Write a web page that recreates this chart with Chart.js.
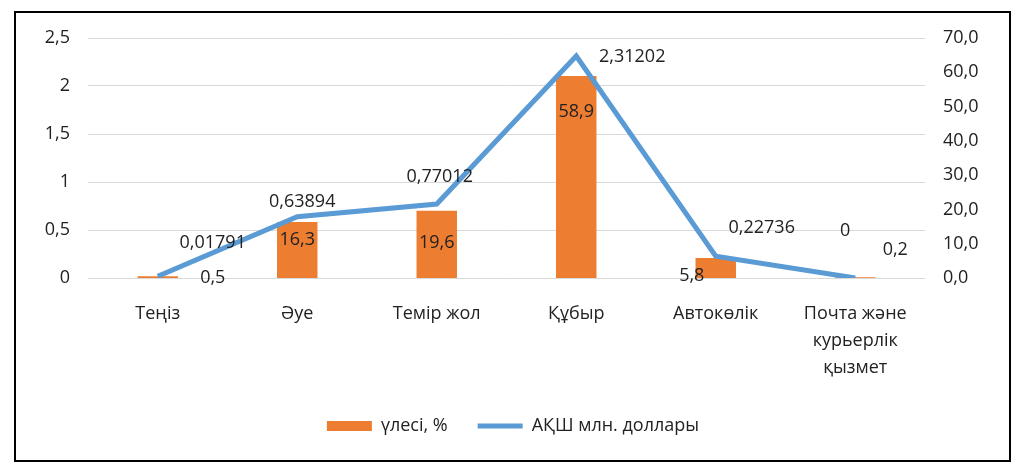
<!DOCTYPE html>
<html>
<head>
<meta charset="utf-8">
<script src="https://cdn.jsdelivr.net/npm/chart.js@4"></script>
<style>
  html, body { margin: 0; padding: 0; background: #fff; }
  #wrap { position: relative; width: 1026px; height: 472px; }
  #frame { position: absolute; left: 14px; top: 11px; width: 993px; height: 447px; border: 2px solid #000; pointer-events: none; }
</style>
</head>
<body>
<div id="wrap">
  <canvas id="chart" width="1026" height="472"></canvas>
  <div id="frame"></div>
</div>
<script>
const categories = ['Теңіз', 'Әуе', 'Темір жол', 'Құбыр', 'Автокөлік', ['Почта және', 'курьерлік', 'қызмет']];
const shareValues = [0.5, 16.3, 19.6, 58.9, 5.8, 0.2];
const usdValues = [0.01791, 0.63894, 0.77012, 2.31202, 0.22736, 0];
const shareLabels = ['0,5', '16,3', '19,6', '58,9', '5,8', '0,2'];
const usdLabels = ['0,01791', '0,63894', '0,77012', '2,31202', '0,22736', '0'];
const leftTicks = ['0', '0,5', '1', '1,5', '2', '2,5'];
const rightTicks = ['0,0', '10,0', '20,0', '30,0', '40,0', '50,0', '60,0', '70,0'];

// label placement relative to bar top / line point (dx, dy)
const barLabelOffsets = [[55, 2], [0, 18], [0, 32], [0, 36], [-24, 18], [40, -27]];
const lineLabelOffsets = [[55, -33], [5, -15], [3, -27], [56, 1], [46, -28], [-10, -47]];

const FONT = '"Open Sans", "Noto Sans", sans-serif';
const TEXT = '#222';

const valueLabels = {
  id: 'valueLabels',
  afterDatasetsDraw(chart) {
    const ctx = chart.ctx;
    ctx.save();
    ctx.font = '18px ' + FONT;
    ctx.fillStyle = TEXT;
    ctx.textAlign = 'center';
    ctx.textBaseline = 'middle';
    chart.data.datasets.forEach((ds, i) => {
      const meta = chart.getDatasetMeta(i);
      meta.data.forEach((el, j) => {
        const off = ds.labelOffsets[j];
        ctx.fillText(ds.valueTexts[j], el.x + off[0], el.y + off[1]);
      });
    });
    ctx.restore();
  }
};

new Chart(document.getElementById('chart'), {
  data: {
    labels: categories,
    datasets: [
      {
        type: 'bar',
        label: 'үлесі, %',
        data: shareValues,
        yAxisID: 'y1',
        backgroundColor: '#ed7d31',
        barPercentage: 0.29,
        categoryPercentage: 1,
        order: 1,
        valueTexts: shareLabels,
        labelOffsets: barLabelOffsets
      },
      {
        type: 'line',
        label: 'АҚШ млн. доллары',
        data: usdValues,
        yAxisID: 'y',
        borderColor: '#5b9bd5',
        backgroundColor: '#5b9bd5',
        borderWidth: 5,
        pointRadius: 0,
        tension: 0,
        order: 0,
        valueTexts: usdLabels,
        labelOffsets: lineLabelOffsets
      }
    ]
  },
  options: {
    responsive: false,
    animation: false,
    layout: { padding: { top: 38, bottom: 27, left: 0, right: 0 } },
    plugins: {
      tooltip: { enabled: false },
      legend: {
        position: 'bottom',
        labels: {
          font: { family: FONT, size: 18 },
          color: TEXT,
          usePointStyle: true,
          pointStyleWidth: 45,
          boxHeight: 10,
          padding: 30,
          sort: (a, b) => a.datasetIndex - b.datasetIndex,
          generateLabels(chart) {
            const items = Chart.defaults.plugins.legend.labels.generateLabels(chart);
            items.forEach(it => { it.pointStyle = it.datasetIndex === 0 ? 'rect' : 'line'; });
            return items;
          }
        }
      }
    },
    scales: {
      x: {
        offset: true,
        grid: { display: false, drawTicks: false },
        border: { display: false },
        ticks: {
          color: TEXT,
          font: { family: FONT, size: 18, lineHeight: 1.5 },
          padding: 22,
          maxRotation: 0,
          autoSkip: false
        },
        afterFit(scale) { scale.height = 109; }
      },
      y: {
        position: 'left',
        min: 0,
        max: 2.5,
        grid: { color: '#d9d9d9', drawTicks: false },
        border: { display: false },
        ticks: {
          stepSize: 0.5,
          color: TEXT,
          font: { family: FONT, size: 18 },
          padding: 18,
          callback: (v, i) => leftTicks[i]
        },
        afterFit(scale) { scale.width = 88; }
      },
      y1: {
        position: 'right',
        min: 0,
        max: 70,
        grid: { display: false, drawTicks: false },
        border: { display: false },
        ticks: {
          stepSize: 10,
          color: TEXT,
          font: { family: FONT, size: 18 },
          padding: 18,
          callback: (v, i) => rightTicks[i]
        },
        afterFit(scale) { scale.width = 101; }
      }
    }
  },
  plugins: [valueLabels]
});
</script>
</body>
</html>
